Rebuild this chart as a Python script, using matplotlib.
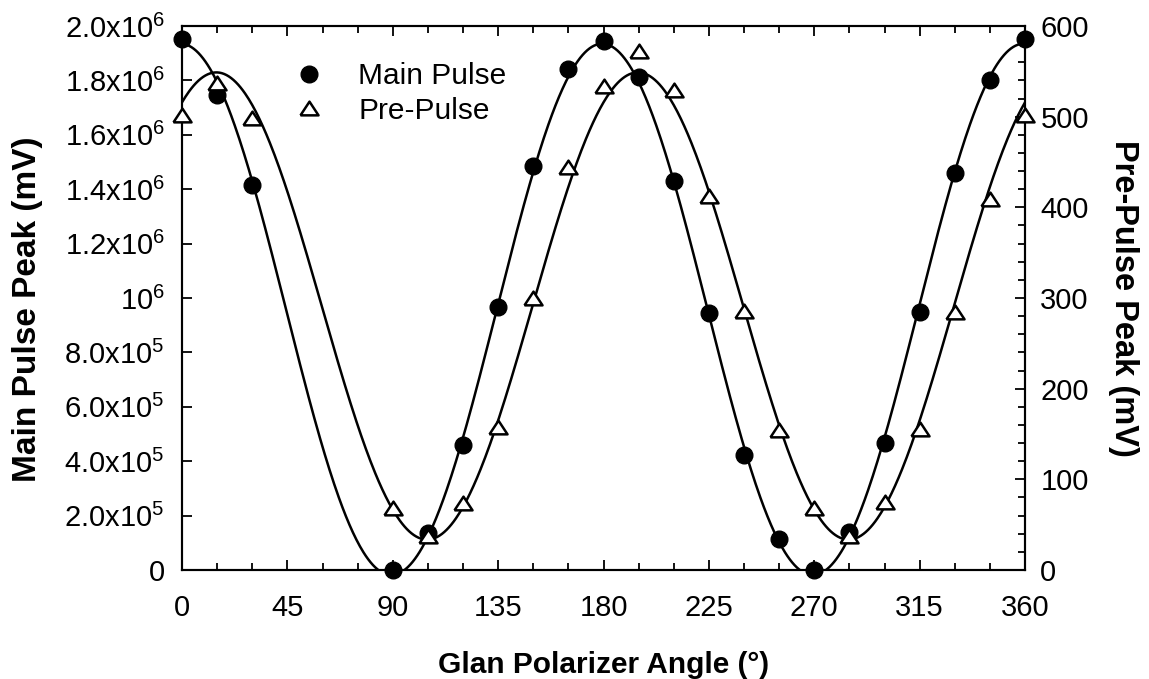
import numpy as np
import matplotlib.pyplot as plt

plt.rcParams['font.family'] = ['Liberation Sans', 'DejaVu Sans']
plt.rcParams['mathtext.fontset'] = 'custom'
plt.rcParams['mathtext.rm'] = 'Liberation Sans'
plt.rcParams['mathtext.it'] = 'Liberation Sans:italic'
plt.rcParams['mathtext.bf'] = 'Liberation Sans:bold'

# Measured peaks vs. Glan polarizer angle (degrees)
angle = [0, 15, 30, 90, 105, 120, 135, 150, 165, 180, 195, 210,
         225, 240, 255, 270, 285, 300, 315, 330, 345, 360]
main_peak = [1.952e6, 1.746e6, 1.415e6, 0.0, 0.135e6, 0.46e6, 0.968e6, 1.486e6,
             1.841e6, 1.945e6, 1.814e6, 1.43e6, 0.944e6, 0.423e6, 0.113e6, 0.0,
             0.141e6, 0.466e6, 0.95e6, 1.458e6, 1.80e6, 1.951e6]
pre_peak = [502, 537, 499, 68, 37, 74, 158, 300, 445, 534, 572, 529,
            412, 286, 154, 68, 37, 75, 156, 285, 409, 502]

left_ticks = [0, 2e5, 4e5, 6e5, 8e5, 1e6, 1.2e6, 1.4e6, 1.6e6, 1.8e6, 2e6]
left_labels = ['0', r'$\mathregular{2.0x10^5}$', r'$\mathregular{4.0x10^5}$',
               r'$\mathregular{6.0x10^5}$', r'$\mathregular{8.0x10^5}$',
               r'$\mathregular{10^6}$', r'$\mathregular{1.2x10^6}$',
               r'$\mathregular{1.4x10^6}$', r'$\mathregular{1.6x10^6}$',
               r'$\mathregular{1.8x10^6}$', r'$\mathregular{2.0x10^6}$']
right_ticks = [0, 100, 200, 300, 400, 500, 600]
x_ticks = [0, 45, 90, 135, 180, 225, 270, 315, 360]


def cos2_fit(x, y):
    # least squares fit of y = a + b*cos(2x) + c*sin(2x)  (Malus-type curve)
    t = np.radians(np.asarray(x, dtype=float))
    A = np.column_stack([np.ones_like(t), np.cos(2 * t), np.sin(2 * t)])
    coef, *_ = np.linalg.lstsq(A, np.asarray(y, dtype=float), rcond=None)

    def f(xx):
        tt = np.radians(xx)
        return coef[0] + coef[1] * np.cos(2 * tt) + coef[2] * np.sin(2 * tt)
    return f


xs = np.linspace(0, 360, 721)
main_fit = cos2_fit(angle, main_peak)
pre_fit = cos2_fit(angle, pre_peak)

# slightly flattened open triangle
tri = [(-1, -0.76), (1, -0.76), (0, 0.76), (-1, -0.76)]

fig, ax = plt.subplots(figsize=(11.49, 6.79), dpi=100)
fig.subplots_adjust(left=0.1584, right=0.8921, top=0.9617, bottom=0.1605)
ax2 = ax.twinx()

ax.plot(xs, main_fit(xs), color='black', lw=1.8)
h1, = ax.plot(angle, main_peak, 'o', color='black', ms=12, clip_on=False,
              label='Main Pulse', zorder=5)
ax2.plot(xs, pre_fit(xs), color='black', lw=1.8)
h2, = ax2.plot(angle, pre_peak, marker=tri, ls='none', mfc='white', mec='black',
               mew=1.8, ms=13, clip_on=False, label='Pre-Pulse', zorder=5)

ax.set_xlim(0, 360)
ax.set_ylim(0, 2e6)
ax2.set_ylim(0, 600)

ax.set_xticks(x_ticks)
ax.set_xticks(np.arange(0, 361, 15), minor=True)
ax.set_yticks(left_ticks)
ax.set_yticklabels(left_labels)
ax2.set_yticks(right_ticks)
ax2.set_yticks(np.arange(0, 601, 20), minor=True)

ax.tick_params(axis='x', which='both', direction='in', top=True, labelsize=21, pad=17)
ax.tick_params(axis='x', which='major', length=7, width=1.3)
ax.tick_params(axis='x', which='minor', length=5, width=1.3)
ax.tick_params(axis='y', which='major', direction='in', length=7, width=1.3,
               labelsize=21, pad=12.5)
ax2.tick_params(axis='y', which='major', direction='in', length=7, width=1.3,
                labelsize=21, pad=11)
ax2.tick_params(axis='y', which='minor', direction='in', length=5, width=1.3)

for a in (ax, ax2):
    for s in a.spines.values():
        s.set_linewidth(1.5)

ax.set_xlabel('Glan Polarizer Angle (°)', fontsize=21.5, fontweight='bold', labelpad=21)
ax.set_ylabel('Main Pulse Peak (mV)', fontsize=24, fontweight='bold', labelpad=16)
ax.yaxis.set_label_coords(-0.165, 0.48)
ax2.set_ylabel('Pre-Pulse Peak (mV)', fontsize=23.5, fontweight='bold',
               rotation=270, labelpad=36)

ax2.legend([h1, h2], ['Main Pulse', 'Pre-Pulse'], loc='upper left',
           bbox_to_anchor=(0.097, 0.983), frameon=False, fontsize=21.5,
           handlelength=1.2, handletextpad=1.07, labelspacing=0.22,
           markerscale=1.0, numpoints=1)

fig.savefig('out.png', dpi=100)
